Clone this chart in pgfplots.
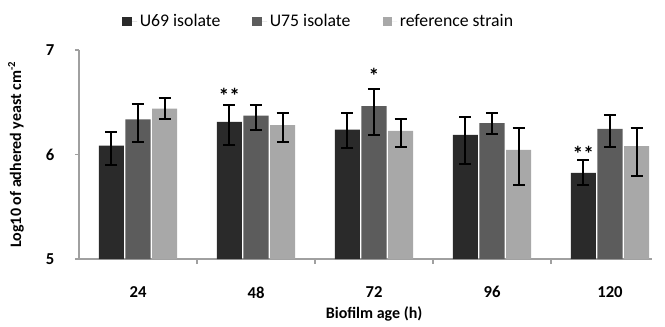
\documentclass[border=0pt]{standalone}
\usepackage{pgfplots}
\usepackage{pgfplotstable}
\pgfplotsset{compat=1.18}
\usepackage{fontspec}
\setmainfont{Carlito}
\definecolor{cdark}{HTML}{2A2A2A}
\definecolor{cmed}{HTML}{5C5C5C}
\definecolor{clight}{HTML}{A8A8A8}
\definecolor{caxis}{HTML}{A0A0A0}

\pgfplotstableread{
x y ep em
0 6.086 0.131 0.182
1 6.313 0.156 0.220
2 6.239 0.156 0.175
3 6.189 0.168 0.278
4 5.825 0.124 0.119
}\tabA
\pgfplotstableread{
x y ep em
0 6.335 0.150 0.211
1 6.373 0.096 0.143
2 6.462 0.167 0.280
3 6.300 0.095 0.106
4 6.246 0.134 0.176
}\tabB
\pgfplotstableread{
x y ep em
0 6.440 0.103 0.102
1 6.280 0.115 0.156
2 6.227 0.111 0.157
3 6.045 0.207 0.339
4 6.079 0.173 0.283
}\tabC

\begin{document}
\begin{tikzpicture}
\path[use as bounding box] (-59.25pt,-50.25pt) rectangle (439.5pt,194.25pt);
\begin{axis}[
  scale only axis,
  width=429.75pt, height=156.75pt,
  xmin=-0.5, xmax=4.356,
  ymin=5, ymax=7,
  ytick={5,6,7},
  xtick={0,1,2,3,4},
  xticklabels={24,48,72,96,120},
  minor xtick={0.5,1.5,2.5,3.5},
  major x tick style={draw=none},
  minor tick length=3.75pt,
  major tick length=3pt,
  tick align=outside,
  tick style={caxis, line width=0.9pt},
  axis x line*=bottom,
  axis y line*=left,
  axis line style={caxis, line width=1.1pt, -},
  /pgf/number format/assume math mode=true,
  ticklabel style={font=\bfseries\fontsize{12.5}{14}\selectfont},
  xticklabel style={anchor=center, yshift=-22pt},
  yticklabel style={anchor=center, xshift=-18.75pt},
  every axis y label/.style={at={(axis description cs:-0.11,0.5)},rotate=90,anchor=center,font=\bfseries\fontsize{12}{14}\selectfont},
  every axis x label/.style={at={(axis description cs:0.515,-0.262)},anchor=center,font=\bfseries\fontsize{12}{14}\selectfont},
  ylabel={Log10 of adhered yeast cm\textsuperscript{-2}},
  xlabel={Biofilm age (h)},
  ybar, bar width=0.212,
  legend columns=3,
  legend style={draw=none, at={(0.419,1.138)}, anchor=center, font=\fontsize{13.3}{15}\selectfont,
    /tikz/every even column/.append style={column sep=22pt}},
  legend image code/.code={\fill[#1] (0pt,-3.4pt) rectangle (6.8pt,3.4pt); \path (0pt,0pt) -- (11pt,0pt);},
  error bars/y dir=both, error bars/y explicit,
  error bars/error bar style={black, line width=1.5pt},
  error bars/error mark options={black, rotate=90, mark size=4.5pt, line width=1.5pt},
]
\addplot[fill=cdark, draw=none, bar shift=-0.226] table[x=x, y=y, y error plus=ep, y error minus=em] {\tabA};
\addlegendentry{U69 isolate}
\addplot[fill=cmed, draw=none, bar shift=0] table[x=x, y=y, y error plus=ep, y error minus=em] {\tabB};
\addlegendentry{U75 isolate}
\addplot[fill=clight, draw=none, bar shift=0.226] table[x=x, y=y, y error plus=ep, y error minus=em] {\tabC};
\addlegendentry{reference strain}
\node[font=\bfseries\fontsize{16}{16}\selectfont] at (axis cs:0.774,6.56) {**};
\node[font=\bfseries\fontsize{16}{16}\selectfont] at (axis cs:2,6.755) {*};
\node[font=\bfseries\fontsize{16}{16}\selectfont] at (axis cs:3.774,6.01) {**};
\end{axis}
\end{tikzpicture}
\end{document}
